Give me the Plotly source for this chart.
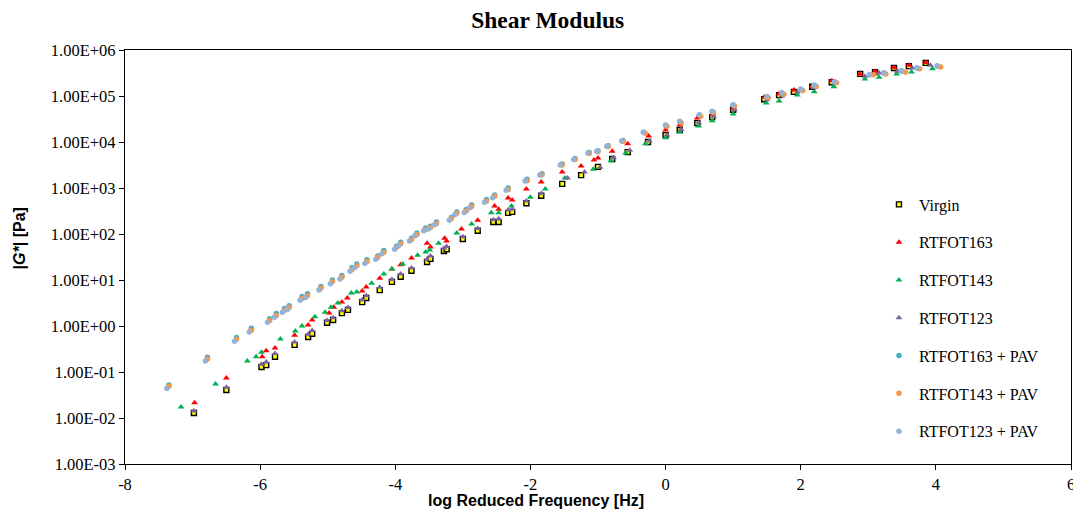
import plotly.graph_objects as go

# ---------------- data (x = log reduced frequency [Hz], y = log10 |G*| [Pa]) ----------------
virgin_x = [-6.98, -6.50, -5.98, -5.91, -5.78, -5.49, -5.29, -5.23, -5.01, -4.92,
            -4.79, -4.70, -4.49, -4.43, -4.23, -4.05, -3.92, -3.76, -3.53, -3.48,
            -3.28, -3.24, -3.00, -2.78, -2.55, -2.47, -2.33, -2.27, -2.06, -1.84,
            -1.53, -1.25, -1.00, -0.79, -0.56, -0.26, 0.00, 0.21, 0.47, 0.69,
            1.00, 1.46, 1.68, 1.90, 2.17, 2.46, 2.88, 3.10, 3.38, 3.60, 3.85]
virgin_logG = [-1.89, -1.39, -0.89, -0.85, -0.67, -0.41, -0.24, -0.17, 0.07, 0.13,
               0.28, 0.35, 0.52, 0.61, 0.78, 0.96, 1.07, 1.20, 1.39, 1.46,
               1.63, 1.67, 1.89, 2.07, 2.26, 2.26, 2.46, 2.48, 2.67, 2.83,
               3.09, 3.28, 3.46, 3.63, 3.78, 4.00, 4.15, 4.26, 4.41, 4.54,
               4.70, 4.93, 5.02, 5.09, 5.20, 5.30, 5.48, 5.52, 5.61, 5.65, 5.72]

r163_x = [-6.97, -6.50, -5.97, -5.91, -5.78, -5.49, -5.29, -5.23, -4.98, -4.91,
          -4.79, -4.71, -4.49, -4.43, -4.23, -4.05, -3.92, -3.76, -3.53, -3.48,
          -3.27, -3.24, -3.02, -2.78, -2.53, -2.47, -2.33, -2.27, -2.06, -1.84,
          -1.53, -1.25, -1.06, -1.00, -0.79, -0.56, -0.25, 0.00, 0.21, 0.47,
          0.69, 1.00, 1.46, 1.68, 1.90, 2.17, 2.46, 2.88, 3.10, 3.38, 3.60, 3.85]
r163_logG = [-1.67, -1.13, -0.67, -0.54, -0.48, -0.20, 0.02, 0.13, 0.28, 0.41,
             0.52, 0.61, 0.76, 0.85, 1.04, 1.24, 1.33, 1.48, 1.80, 1.72,
             1.91, 1.85, 2.11, 2.30, 2.61, 2.54, 2.78, 2.74, 2.98, 3.13,
             3.35, 3.48, 3.61, 3.65, 3.80, 3.96, 4.13, 4.26, 4.37, 4.52,
             4.61, 4.74, 4.98, 5.05, 5.13, 5.22, 5.33, 5.48, 5.53, 5.62, 5.67, 5.73]

r143_x = [-7.17, -6.66, -6.19, -6.06, -5.98, -5.70, -5.48, -5.38, -5.19, -5.04,
          -4.95, -4.85, -4.65, -4.57, -4.35, -4.17, -4.05, -3.89, -3.67, -3.55,
          -3.49, -3.36, -3.09, -2.87, -2.58, -2.47, -2.28, -2.00, -1.78, -1.49,
          -1.07, -0.81, -0.59, -0.30, 0.00, 0.21, 0.49, 0.69, 1.00, 1.49,
          1.68, 1.95, 2.20, 2.49, 2.95, 3.16, 3.42, 3.64, 3.95]
r143_logG = [-1.76, -1.26, -0.76, -0.67, -0.57, -0.28, -0.11, 0.00, 0.20, 0.30,
             0.41, 0.50, 0.72, 0.74, 0.93, 1.13, 1.24, 1.35, 1.54, 1.61,
             1.65, 1.80, 2.02, 2.22, 2.46, 2.46, 2.61, 2.80, 2.98, 3.22,
             3.41, 3.59, 3.76, 3.96, 4.09, 4.22, 4.35, 4.46, 4.61, 4.85,
             4.89, 5.02, 5.09, 5.20, 5.37, 5.41, 5.48, 5.52, 5.59]

r123_x = [-6.98, -6.50, -5.98, -5.91, -5.78, -5.49, -5.29, -5.23, -5.01, -4.92,
          -4.79, -4.70, -4.49, -4.43, -4.23, -4.05, -3.92, -3.76, -3.53, -3.48,
          -3.28, -3.24, -3.00, -2.78, -2.55, -2.47, -2.33, -2.27, -2.06, -1.84,
          -1.45, -1.20, -0.97, -0.77, -0.53, -0.24, 0.02, 0.23, 0.49, 0.71,
          1.02, 1.50, 1.72, 1.95, 2.20, 2.50, 2.95, 3.16, 3.43, 3.65, 3.92]
r123_logG = [-1.85, -1.33, -0.83, -0.78, -0.60, -0.35, -0.18, -0.10, 0.12, 0.18,
             0.33, 0.40, 0.57, 0.66, 0.84, 1.01, 1.13, 1.26, 1.45, 1.52,
             1.69, 1.73, 1.94, 2.12, 2.31, 2.33, 2.52, 2.54, 2.72, 2.88,
             3.22, 3.35, 3.45, 3.66, 3.82, 4.02, 4.15, 4.27, 4.42, 4.55,
             4.70, 4.92, 5.00, 5.08, 5.18, 5.28, 5.43, 5.50, 5.54, 5.61, 5.67]

p163_x = [-7.35, -6.78, -6.35, -6.13, -5.86, -5.76, -5.64, -5.57, -5.38, -5.30,
          -5.10, -4.93, -4.79, -4.64, -4.57, -4.42, -4.26, -4.17, -3.98, -3.92,
          -3.76, -3.68, -3.55, -3.48, -3.39, -3.17, -3.09, -2.95, -2.87, -2.65,
          -2.53, -2.33, -2.05, -1.83, -1.53, -1.34, -1.13, -1.00, -0.85, -0.63,
          -0.32, 0.00, 0.21, 0.50, 0.69, 1.00, 1.50, 1.72, 2.00, 2.20,
          2.50, 3.02, 3.23, 3.49, 3.72, 4.02]
p163_logG = [-1.28, -0.68, -0.25, -0.05, 0.16, 0.27, 0.38, 0.44, 0.64, 0.70,
             0.86, 1.00, 1.10, 1.27, 1.35, 1.44, 1.52, 1.64, 1.74, 1.82,
             1.91, 2.02, 2.13, 2.17, 2.26, 2.36, 2.48, 2.53, 2.63, 2.75,
             2.85, 3.00, 3.19, 3.31, 3.52, 3.64, 3.77, 3.81, 3.92, 4.03,
             4.21, 4.36, 4.44, 4.58, 4.66, 4.80, 4.98, 5.06, 5.14, 5.23,
             5.30, 5.46, 5.50, 5.55, 5.61, 5.65]

p143_x = [-7.35, -6.78, -6.35, -6.13, -5.86, -5.76, -5.64, -5.57, -5.38, -5.30,
          -5.10, -4.93, -4.79, -4.64, -4.57, -4.42, -4.26, -4.17, -3.98, -3.92,
          -3.76, -3.68, -3.55, -3.48, -3.39, -3.17, -3.09, -2.95, -2.87, -2.65,
          -2.53, -2.33, -2.05, -1.83, -1.53, -1.34, -1.13, -1.00, -0.85, -0.63,
          -0.30, 0.02, 0.23, 0.52, 0.71, 1.02, 1.52, 1.75, 2.03, 2.23,
          2.53, 3.08, 3.26, 3.55, 3.76, 4.07]
p143_logG = [-1.31, -0.72, -0.29, -0.09, 0.12, 0.23, 0.34, 0.40, 0.60, 0.66,
             0.82, 0.96, 1.06, 1.23, 1.31, 1.40, 1.49, 1.60, 1.71, 1.79,
             1.88, 1.99, 2.10, 2.14, 2.23, 2.33, 2.45, 2.50, 2.60, 2.72,
             2.82, 2.97, 3.16, 3.29, 3.50, 3.62, 3.75, 3.79, 3.90, 4.01,
             4.19, 4.34, 4.42, 4.56, 4.64, 4.78, 4.96, 5.04, 5.12, 5.21,
             5.29, 5.46, 5.48, 5.52, 5.59, 5.63]

p123_x = [-7.38, -6.81, -6.38, -6.16, -5.89, -5.79, -5.67, -5.60, -5.41, -5.33,
          -5.13, -4.96, -4.82, -4.67, -4.60, -4.45, -4.29, -4.20, -4.01, -3.95,
          -3.79, -3.71, -3.58, -3.51, -3.42, -3.20, -3.12, -2.98, -2.90, -2.68,
          -2.56, -2.36, -2.08, -1.86, -1.56, -1.36, -1.15, -1.02, -0.87, -0.65,
          -0.33, 0.00, 0.21, 0.50, 0.69, 1.00, 1.50, 1.72, 2.00, 2.20,
          2.50, 3.02, 3.23, 3.49, 3.72, 4.02]
p123_logG = [-1.36, -0.76, -0.33, -0.13, 0.08, 0.19, 0.30, 0.36, 0.56, 0.62,
             0.78, 0.92, 1.02, 1.19, 1.27, 1.36, 1.45, 1.57, 1.67, 1.75,
             1.85, 1.96, 2.07, 2.11, 2.20, 2.30, 2.42, 2.47, 2.57, 2.69,
             2.79, 2.95, 3.15, 3.28, 3.50, 3.62, 3.76, 3.80, 3.91, 4.02,
             4.21, 4.37, 4.45, 4.59, 4.67, 4.81, 4.99, 5.07, 5.15, 5.24,
             5.31, 5.46, 5.50, 5.54, 5.61, 5.65]

y_tick_exponents = [-3, -2, -1, 0, 1, 2, 3, 4, 5, 6]
y_tick_labels = ["1.00E-03", "1.00E-02", "1.00E-01", "1.00E+00", "1.00E+01",
                 "1.00E+02", "1.00E+03", "1.00E+04", "1.00E+05", "1.00E+06"]
x_tick_vals = [-8, -6, -4, -2, 0, 2, 4, 6]
x_tick_labels = ["-8", "-6", "-4", "-2", "0", "2", "4", "6"]

series = [
    ("Virgin", virgin_x, virgin_logG, dict(symbol="square", size=5, color="#FFFF00",
                                            line=dict(color="#000000", width=1.4))),
    ("RTFOT163", r163_x, r163_logG, dict(symbol="triangle-up", size=6, color="#FF0000")),
    ("RTFOT143", r143_x, r143_logG, dict(symbol="triangle-up", size=6, color="#00B050")),
    ("RTFOT123", r123_x, r123_logG, dict(symbol="triangle-up", size=6, color="#8064A2")),
    ("RTFOT163 + PAV", p163_x, p163_logG, dict(symbol="circle", size=5.5, color="#4BACC6")),
    ("RTFOT143 + PAV", p143_x, p143_logG, dict(symbol="circle", size=5.5, color="#F79646")),
    ("RTFOT123 + PAV", p123_x, p123_logG, dict(symbol="circle", size=5.5, color="#95B3D7")),
]

fig = go.Figure()
for i, (name, xs, lg, mk) in enumerate(series):
    fig.add_trace(go.Scatter(
        x=xs, y=[10 ** v for v in lg], mode="markers", name=name,
        marker=mk, legendgroup="g%d" % i,
    ))

serif = "Liberation Serif, Times New Roman, serif"
sans = "Liberation Sans, Arial, sans-serif"

# The page body adds an 8px margin, so the figure is sized/offset to compensate.
fig.update_layout(
    width=1073, height=502,
    margin=dict(l=117, r=6, t=42, b=46),
    paper_bgcolor="white", plot_bgcolor="white",
    title=dict(text="<b>Shear Modulus</b>", x=0.503, xref="container", xanchor="center",
               y=0.976, yref="container", yanchor="middle",
               font=dict(family=serif, size=23.5, color="black")),
    showlegend=True,
    legend=dict(x=0.797, y=0.668, xanchor="left", yanchor="top",
                font=dict(family=serif, size=16, color="black"),
                bgcolor="rgba(0,0,0,0)", traceorder="grouped", tracegroupgap=14,
                itemsizing="trace", itemwidth=30),
    xaxis=dict(range=[-8, 6], tickvals=x_tick_vals, ticktext=x_tick_labels,
               ticks="outside", ticklen=5,
               tickcolor="black", showline=True, linecolor="black", linewidth=1.2,
               mirror=True, showgrid=False, zeroline=False,
               tickfont=dict(family=serif, size=16.5, color="black")),
    yaxis=dict(type="log", range=[-3, 6], tickvals=[10 ** e for e in y_tick_exponents],
               ticktext=y_tick_labels, ticks="outside", ticklen=5, tickcolor="black",
               showline=True, linecolor="black", linewidth=1.2, mirror=True,
               showgrid=False, zeroline=False,
               tickfont=dict(family=serif, size=16.5, color="black")),
    annotations=[
        dict(text="<b>log Reduced Frequency [Hz]</b>", xref="paper", yref="paper",
             x=0.434, y=-0.087, xanchor="center", yanchor="middle", showarrow=False,
             font=dict(family=sans, size=16, color="black")),
        dict(text="<b>|<i>G*</i>| [Pa]</b>", xref="paper", yref="paper",
             x=-0.112, y=0.545, xanchor="center", yanchor="middle", showarrow=False,
             textangle=-90, font=dict(family=sans, size=16, color="black")),
    ],
)

fig.write_html("out.html")
